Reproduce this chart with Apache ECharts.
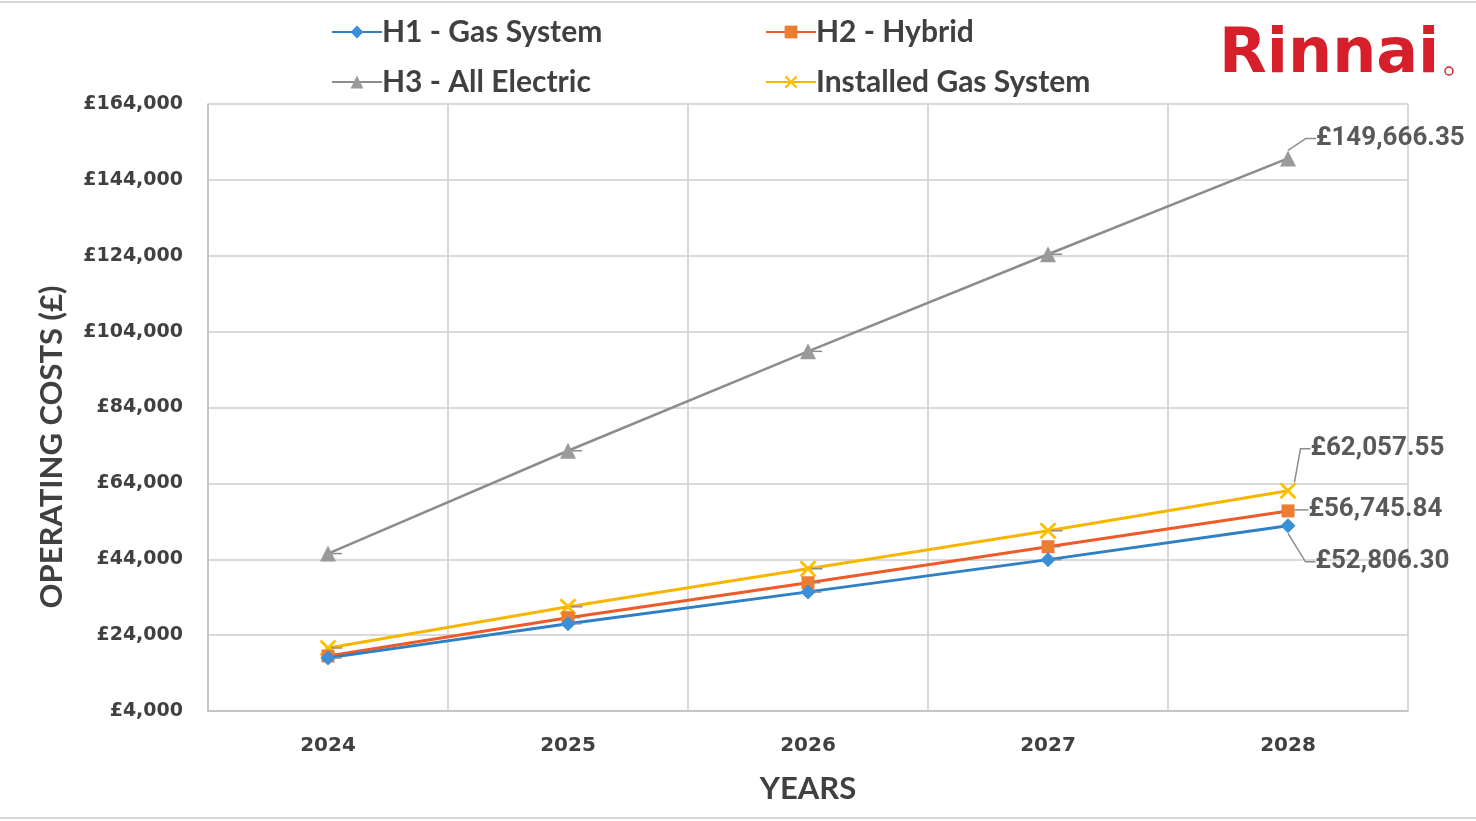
<!DOCTYPE html>
<html>
<head>
<meta charset="utf-8">
<script src="https://cdn.jsdelivr.net/npm/echarts@6/dist/echarts.min.js"></script>
<style>html,body{margin:0;padding:0;background:#fff;}#chart{width:1476px;height:821px;}</style>
</head>
<body>
<div id="chart"></div>
<script>
const years = ['2024', '2025', '2026', '2027', '2028'];
const h1Gas = [18000, 27000, 35400, 43900, 52806.30];
const h2Hybrid = [18500, 28600, 37800, 47300, 56745.84];
const h3Electric = [45500, 72600, 98800, 124400, 149666.35];
const installedGas = [20600, 31500, 41500, 51500, 62057.55];
const yTicks = { min: 4000, max: 164000, step: 20000 };

const xPath = 'path://M0,1.2L1.2,0L5,3.8L8.8,0L10,1.2L6.2,5L10,8.8L8.8,10L5,6.2L1.2,10L0,8.8L3.8,5Z';

function money(v, dec) {
  const s = v.toFixed(dec);
  const parts = s.split('.');
  parts[0] = parts[0].replace(/\B(?=(\d{3})+(?!\d))/g, ',');
  return '£' + parts.join('.');
}

function lastLabel(dx, dy) {
  return {
    label: {
      show: true,
      position: 'right',
      distance: 6,
      fontFamily: 'Roboto',
      fontWeight: 'bold',
      fontSize: 26,
      color: '#595959',
      formatter: p => p.dataIndex === years.length - 1 ? money(p.value, 2) : ''
    },
    labelLine: { show: true, lineStyle: { color: '#8c8c8c', width: 1.5 }, length2: 10 },
    labelLayout: p => p.dataIndex === years.length - 1 ? { dx: dx, dy: dy } : {}
  };
}

const chart = echarts.init(document.getElementById('chart'));
const legendText = { fontFamily: 'Lato', fontWeight: 'bold', fontSize: 30, color: '#404040', padding: [0, 0, 0, -5] };
chart.setOption({
  animation: false,
  backgroundColor: '#ffffff',
  grid: { left: 208, right: 68, top: 104, bottom: 110, containLabel: false },
  legend: [
    { data: ['H1 - Gas System', 'H3 - All Electric'], orient: 'vertical', left: 326, top: 12, itemWidth: 50, itemHeight: 16, itemGap: 20, textStyle: legendText },
    { data: ['H2 - Hybrid', 'Installed Gas System'], orient: 'vertical', left: 760, top: 12, itemWidth: 50, itemHeight: 16, itemGap: 20, textStyle: legendText }
  ],
  xAxis: {
    type: 'category',
    data: years,
    boundaryGap: true,
    axisLine: { show: true, lineStyle: { color: '#bfbfbf', width: 1.5 } },
    axisTick: { show: false },
    splitLine: { show: true, lineStyle: { color: '#cccccc', width: 1.5 } },
    axisLabel: { margin: 25, fontFamily: 'DejaVu Sans', fontWeight: 'bold', fontSize: 20, color: '#404040' },
    name: 'YEARS',
    nameLocation: 'middle',
    nameGap: 62,
    nameTextStyle: { fontFamily: 'Lato', fontWeight: 'bold', fontSize: 31, color: '#404040' }
  },
  yAxis: {
    type: 'value',
    min: yTicks.min,
    max: yTicks.max,
    interval: yTicks.step,
    axisLine: { show: true, lineStyle: { color: '#bfbfbf', width: 1.5 } },
    axisTick: { show: false },
    splitLine: { show: true, lineStyle: { color: '#cccccc', width: 1.5 } },
    axisLabel: { margin: 25, fontFamily: 'DejaVu Sans', fontWeight: 'bold', fontSize: 19, color: '#404040', formatter: v => money(v, 0) }
  },
  series: [
    Object.assign({
      name: 'H1 - Gas System', type: 'line', data: h1Gas,
      symbol: 'diamond', symbolSize: 15,
      lineStyle: { color: '#2e7fc4', width: 3 },
      itemStyle: { color: '#3a8fd6' }, z: 5
    }, lastLabel(14, 36)),
    Object.assign({
      name: 'H2 - Hybrid', type: 'line', data: h2Hybrid,
      symbol: 'rect', symbolSize: 13,
      lineStyle: { color: '#ee5a28', width: 3 },
      itemStyle: { color: '#ed7d31' }, z: 4
    }, lastLabel(8, -1)),
    Object.assign({
      name: 'H3 - All Electric', type: 'line', data: h3Electric,
      symbol: 'triangle', symbolSize: 16,
      lineStyle: { color: '#8c8c8c', width: 2.5 },
      itemStyle: { color: '#9a9a9a' }, z: 3
    }, lastLabel(14, -20)),
    Object.assign({
      name: 'Installed Gas System', type: 'line', data: installedGas,
      symbol: xPath, symbolSize: 17,
      lineStyle: { color: '#f8b500', width: 3 },
      itemStyle: { color: '#ffc000' }, z: 3
    }, lastLabel(8, -42))
  ],
  graphic: [
    { type: 'text', x: 52, y: 447, rotation: Math.PI / 2, style: { text: 'OPERATING COSTS (£)', align: 'center', verticalAlign: 'middle', fontFamily: 'Lato', fontWeight: 'bold', fontSize: 31, fill: '#404040' } },
    { type: 'text', left: 1219, top: 25, style: { text: 'Rinnai', fontFamily: 'DejaVu Sans', fontWeight: 'bold', fontSize: 62, fill: '#d71f2b' } },
    { type: 'circle', shape: { cx: 1449, cy: 71, r: 4 }, style: { fill: 'none', stroke: '#d71f2b', lineWidth: 1.5 } },
    { type: 'line', shape: { x1: 0, y1: 2, x2: 1476, y2: 2 }, style: { stroke: '#d6d6d6', lineWidth: 2 } },
    { type: 'line', shape: { x1: 0, y1: 818, x2: 1476, y2: 818 }, style: { stroke: '#d6d6d6', lineWidth: 2 } }
  ]
});
</script>
</body>
</html>
